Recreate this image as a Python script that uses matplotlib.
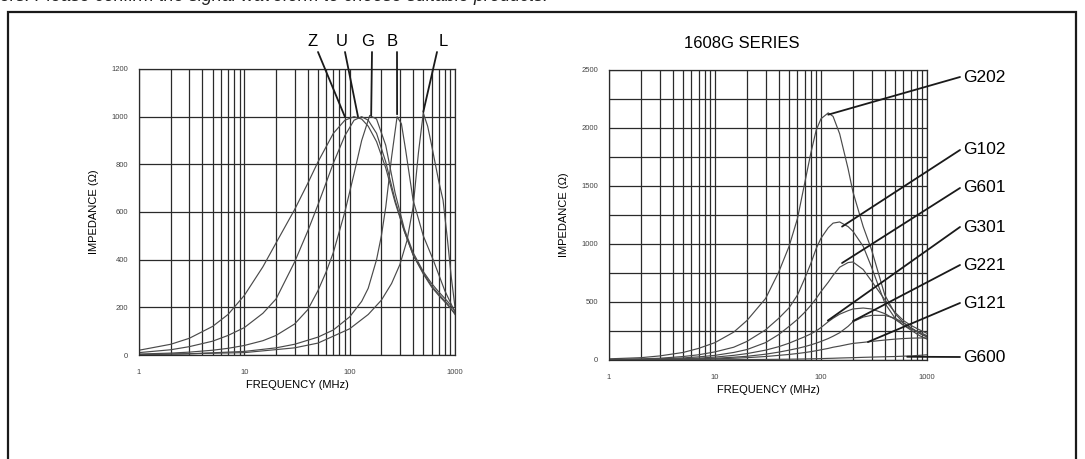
import matplotlib
matplotlib.use("Agg")
import matplotlib.pyplot as plt
from matplotlib.patches import Rectangle
from matplotlib.ticker import FixedLocator, NullFormatter

plt.rcParams['font.family'] = ['Liberation Sans', 'DejaVu Sans']

W, H = 1085, 459

# ---- left chart: bead types (impedance in ohm vs frequency in MHz) ----
freq_z = [1, 2, 3, 5, 7, 10, 15, 20, 30, 40, 50, 70, 90, 110, 130, 150, 180, 220, 270, 330, 400, 500, 600, 700, 850, 1000]
imp_z = [20, 45, 70, 120, 170, 250, 370, 470, 610, 720, 810, 930, 985, 1000, 990, 960, 895, 785, 640, 520, 420, 340, 285, 250, 210, 175]
freq_u = [1, 2, 3, 5, 7, 10, 15, 20, 30, 40, 50, 70, 90, 110, 130, 150, 180, 220, 270, 330, 400, 500, 600, 700, 850, 1000]
imp_u = [10, 22, 35, 58, 82, 115, 175, 235, 390, 520, 630, 805, 920, 985, 1000, 985, 930, 810, 650, 520, 420, 345, 290, 255, 215, 170]
freq_g = [1, 2, 3, 5, 7, 10, 15, 20, 30, 40, 50, 60, 70, 90, 110, 130, 155, 180, 220, 270, 330, 400, 500, 600, 700, 850, 1000]
imp_g = [4, 8, 12, 20, 28, 40, 60, 82, 130, 190, 270, 350, 430, 600, 760, 900, 1005, 990, 880, 680, 530, 430, 350, 300, 265, 225, 185]
freq_b = [1, 3, 10, 20, 30, 50, 70, 100, 130, 150, 180, 200, 220, 250, 282, 310, 340, 400, 500, 620, 800, 1000]
imp_b = [2, 5, 15, 30, 45, 75, 105, 160, 225, 280, 400, 500, 620, 830, 1000, 970, 860, 650, 500, 400, 270, 180]
freq_l = [1, 10, 30, 50, 100, 150, 200, 250, 300, 350, 400, 450, 500, 550, 600, 700, 770, 850, 920, 1000]
imp_l = [1, 10, 30, 50, 110, 170, 230, 300, 380, 480, 620, 850, 1015, 960, 880, 730, 650, 480, 330, 200]
left_labels = ['Z', 'U', 'G', 'B', 'L']
left_pointer_tips = [(90, 1000), (120, 1000), (160, 1005), (282, 1010), (500, 1020)]

# ---- right chart: 1608G series ----
freq_r = [1, 2, 3, 5, 7, 10, 15, 20, 30, 40, 50, 60, 70, 80, 90, 100, 117, 130, 150, 180, 200, 250, 300, 400, 500, 600, 700, 850, 1000]
imp_g202 = [10, 20, 35, 65, 100, 150, 240, 340, 530, 760, 980, 1220, 1520, 1780, 1980, 2080, 2130, 2100, 1950, 1650, 1450, 1150, 950, 560, 400, 320, 280, 230, 200]
imp_g102 = [5, 10, 15, 30, 45, 70, 110, 160, 260, 360, 450, 560, 700, 830, 960, 1050, 1140, 1180, 1190, 1150, 1110, 980, 800, 490, 360, 300, 270, 240, 210]
imp_g601 = [3, 6, 10, 18, 27, 40, 65, 90, 150, 220, 290, 350, 410, 470, 530, 590, 670, 730, 800, 840, 845, 780, 680, 520, 410, 340, 300, 260, 230]
imp_g301 = [2, 4, 6, 11, 16, 25, 40, 55, 85, 115, 145, 175, 200, 225, 250, 280, 330, 360, 395, 425, 440, 448, 440, 400, 350, 300, 260, 210, 180]
imp_g221 = [1, 3, 4, 7, 10, 15, 24, 32, 50, 68, 85, 100, 115, 130, 145, 160, 185, 205, 235, 290, 330, 370, 385, 385, 360, 320, 280, 230, 200]
imp_g121 = [1, 2, 3, 5, 7, 10, 15, 20, 30, 40, 48, 56, 64, 72, 80, 88, 100, 110, 120, 135, 143, 152, 160, 172, 180, 185, 188, 190, 190]
imp_g600 = [0, 0, 1, 1, 2, 2, 3, 4, 5, 6, 7, 8, 9, 10, 11, 12, 14, 15, 17, 19, 20, 23, 25, 28, 30, 33, 35, 40, 45]
right_labels = ['G202', 'G102', 'G601', 'G301', 'G221', 'G121', 'G600']
right_pointer_tips = [(117, 2115), (158, 1150), (158, 836), (116, 340), (200, 335), (277, 155), (650, 28)]
right_label_y = [77, 150, 188, 227, 265, 303, 357]

fig = plt.figure(figsize=(W / 100, H / 100), dpi=100)
fig.patch.set_facecolor('white')


def px_axes(x0, y0, x1, y1):
    return fig.add_axes([x0 / W, 1 - y1 / H, (x1 - x0) / W, (y1 - y0) / H])


def style_axes(ax, ymax, ystep, ylabels):
    ax.set_xscale('log')
    ax.set_xlim(1, 1000)
    ax.set_ylim(0, ymax)
    ax.xaxis.set_major_locator(FixedLocator([1, 10, 100, 1000]))
    ax.xaxis.set_minor_locator(FixedLocator([m * d for d in (1, 10, 100) for m in range(2, 10)]))
    ax.xaxis.set_minor_formatter(NullFormatter())
    ax.set_xticklabels(['1', '10', '100', '1000'])
    ax.set_yticks(range(0, ymax + 1, ystep))
    ax.set_yticklabels([str(v) if v in ylabels else '' for v in range(0, ymax + 1, ystep)])
    ax.grid(True, which='both', axis='x', color='#2a2a2a', lw=0.9)
    ax.grid(True, which='major', axis='y', color='#2a2a2a', lw=0.9)
    ax.tick_params(which='both', length=0, labelsize=5.5, labelcolor='#444')
    ax.tick_params(axis='x', pad=10)
    ax.tick_params(axis='y', pad=8)
    for s in ax.spines.values():
        s.set_color('#2a2a2a')
        s.set_linewidth(0.9)
    ax.set_xlabel('FREQUENCY (MHz)', fontsize=8, labelpad=3)
    ax.set_ylabel('IMPEDANCE (\u03a9)', fontsize=8, labelpad=9)


curve_kw = dict(color='#4a4a4a', lw=0.85)

ax1 = px_axes(139, 69, 455, 355)
style_axes(ax1, 1200, 200, list(range(0, 1201, 200)))
for f, z in [(freq_z, imp_z), (freq_u, imp_u), (freq_g, imp_g), (freq_b, imp_b), (freq_l, imp_l)]:
    ax1.plot(f, z, **curve_kw)

left_label_x = [313, 342, 368, 392, 443]
left_line_start = [318, 345, 372, 397, 437]
for lab, tip, lx, sx in zip(left_labels, left_pointer_tips, left_label_x, left_line_start):
    ax1.annotate('', xy=tip, xycoords='data', xytext=(sx, H - 52), textcoords='figure pixels',
                 arrowprops=dict(arrowstyle='-', lw=1.3, color='#1a1a1a', shrinkA=0, shrinkB=0),
                 annotation_clip=False)
    fig.text(lx / W, 1 - 42 / H, lab, fontsize=12, ha='center', va='center')

ax2 = px_axes(609, 70, 927, 360)
style_axes(ax2, 2500, 250, list(range(0, 2501, 500)))
for z in [imp_g202, imp_g102, imp_g601, imp_g301, imp_g221, imp_g121, imp_g600]:
    ax2.plot(freq_r, z, **curve_kw)

for lab, tip, ly in zip(right_labels, right_pointer_tips, right_label_y):
    ax2.annotate('', xy=tip, xycoords='data', xytext=(960, H - ly), textcoords='figure pixels',
                 arrowprops=dict(arrowstyle='-', lw=1.3, color='#1a1a1a', shrinkA=0, shrinkB=0),
                 annotation_clip=False)
    fig.text(963 / W, 1 - ly / H, lab, fontsize=12.5, ha='left', va='center')

fig.text(742 / W, 1 - 43 / H, '1608G SERIES', fontsize=12, ha='center', va='center')

# outer frame of the catalogue box
fig.add_artist(Rectangle((8 / W, -0.1), (1076 - 8) / W, 1.1 - 12 / H, fill=False,
                         edgecolor='#1a1a1a', lw=1.6, transform=fig.transFigure))

# clipped text line from the page above
fig.text(0, 1 + 4 / H, 'ers. Please confirm the signal waveform to choose suitable products.',
         fontsize=13, style='italic', ha='left', va='center', color='#222')

fig.savefig('out.png', dpi=100, facecolor='white')
